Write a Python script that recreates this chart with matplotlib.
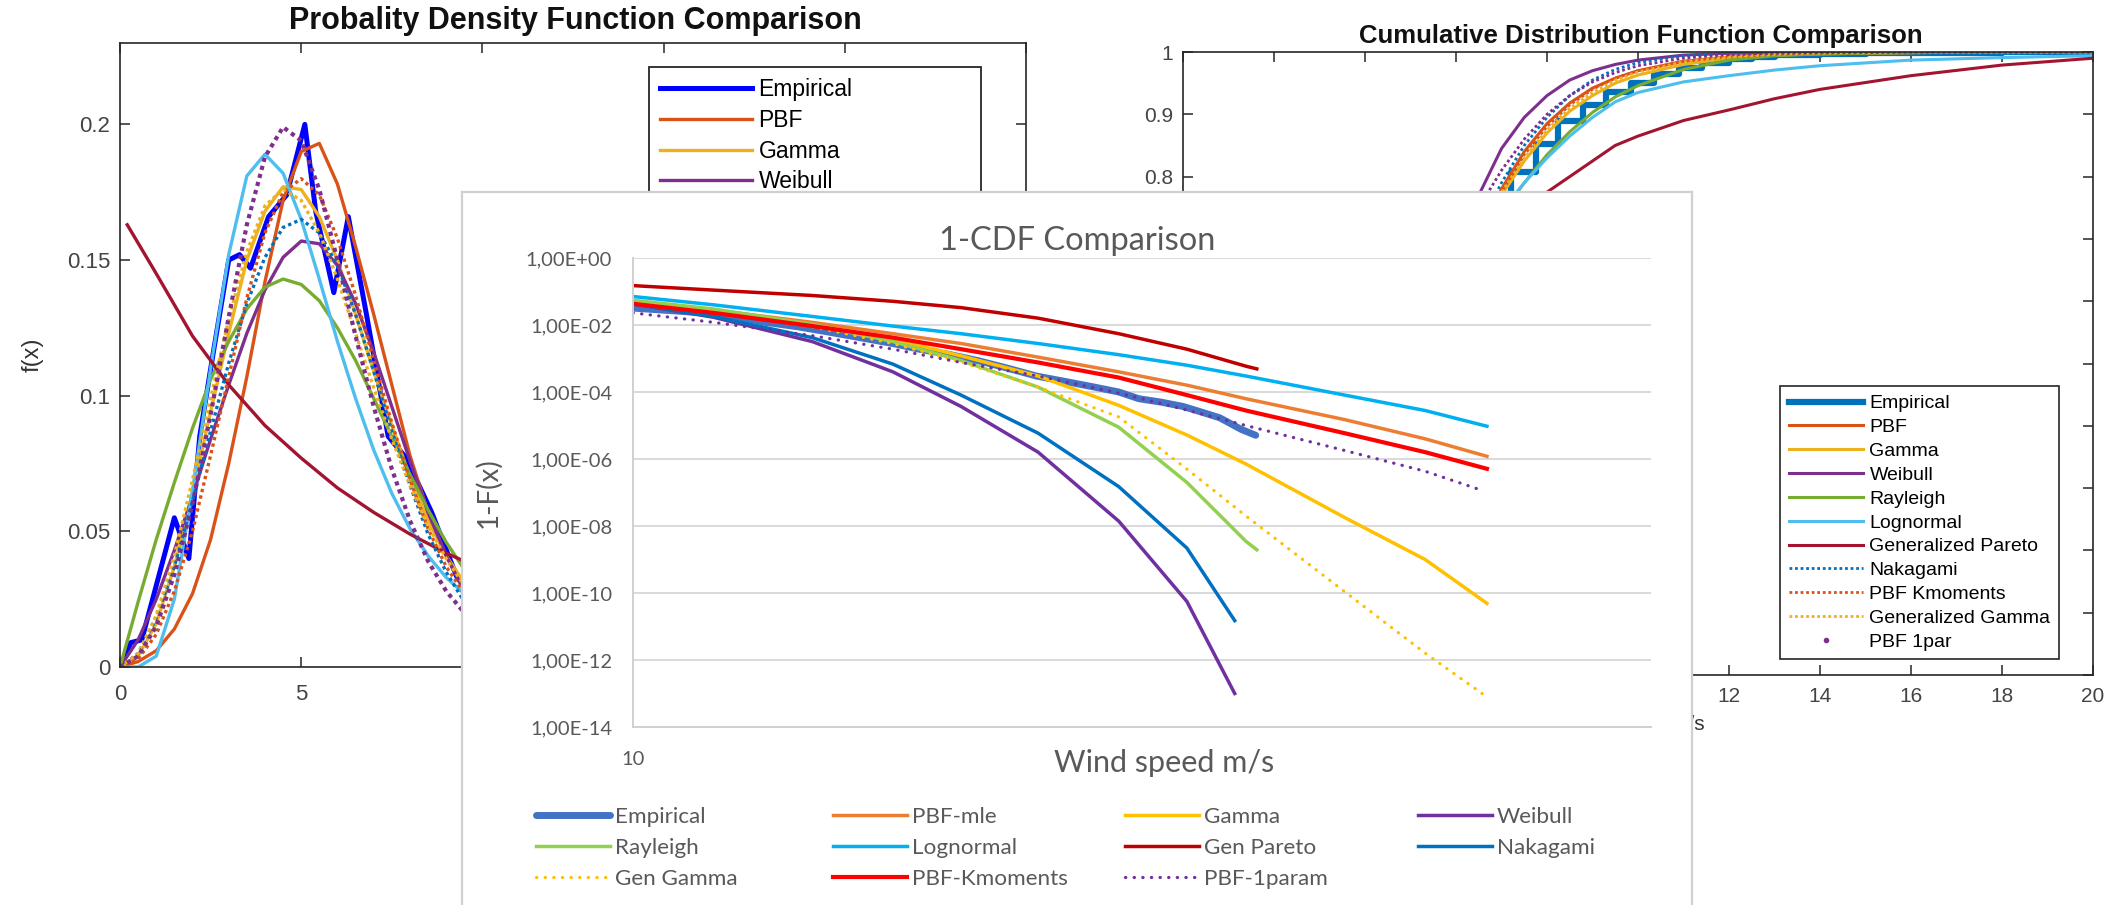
import numpy as np
import matplotlib
matplotlib.use('Agg')
import matplotlib.pyplot as plt
from matplotlib.legend import Legend
from matplotlib.lines import Line2D
from matplotlib.ticker import FixedLocator, FuncFormatter, NullLocator

plt.rcParams['font.family'] = ['Liberation Sans', 'DejaVu Sans']

W, H = 2119, 905

names = ['Empirical', 'PBF', 'Gamma', 'Weibull', 'Rayleigh', 'Lognormal',
         'Generalized Pareto', 'Nakagami', 'PBF Kmoments', 'Generalized Gamma', 'PBF 1par']
excel_names = ['Empirical', 'PBF-mle', 'Gamma', 'Weibull', 'Rayleigh', 'Lognormal',
               'Gen Pareto', 'Nakagami', 'Gen Gamma', 'PBF-Kmoments', 'PBF-1param']

# ---- left panel: pdf values ----
pdf_x = [0, 0.5, 1, 1.5, 2, 2.5, 3, 3.5, 4, 4.5, 5, 5.5, 6, 6.5, 7, 7.5, 8, 8.5, 9, 9.5, 10, 11, 12]
pdf_pbf = [0, 0.002, 0.006, 0.014, 0.027, 0.047, 0.075, 0.107, 0.142, 0.172, 0.190, 0.193, 0.178, 0.155,
           0.130, 0.104, 0.078, 0.057, 0.041, 0.029, 0.020, 0.009, 0.004]
pdf_gamma = [0, 0.004, 0.016, 0.037, 0.064, 0.094, 0.123, 0.150, 0.168, 0.177, 0.176, 0.166, 0.150, 0.130,
             0.109, 0.089, 0.070, 0.054, 0.041, 0.031, 0.023, 0.012, 0.006]
pdf_weibull = [0, 0.010, 0.025, 0.043, 0.063, 0.084, 0.104, 0.123, 0.139, 0.151, 0.157, 0.156, 0.148, 0.134,
               0.116, 0.096, 0.076, 0.057, 0.041, 0.028, 0.018, 0.006, 0.002]
pdf_rayleigh = [0, 0.024, 0.047, 0.068, 0.088, 0.106, 0.120, 0.132, 0.140, 0.143, 0.141, 0.135, 0.125, 0.113,
                0.099, 0.085, 0.071, 0.058, 0.046, 0.036, 0.027, 0.015, 0.008]
pdf_lognormal = [0, 0, 0.004, 0.025, 0.065, 0.110, 0.152, 0.181, 0.189, 0.182, 0.165, 0.143, 0.120, 0.099,
                 0.080, 0.064, 0.051, 0.041, 0.033, 0.027, 0.021, 0.013, 0.008]
pdf_nakagami = [0, 0.005, 0.018, 0.037, 0.061, 0.087, 0.112, 0.134, 0.151, 0.162, 0.165, 0.160, 0.148, 0.130,
                0.109, 0.087, 0.067, 0.049, 0.035, 0.024, 0.016, 0.006, 0.002]
pdf_pbfk = [0, 0.003, 0.012, 0.028, 0.050, 0.078, 0.107, 0.136, 0.160, 0.175, 0.180, 0.174, 0.158, 0.137,
            0.113, 0.090, 0.069, 0.051, 0.037, 0.027, 0.019, 0.009, 0.004]
pdf_gengamma = [0, 0.005, 0.019, 0.041, 0.069, 0.099, 0.128, 0.153, 0.170, 0.176, 0.172, 0.160, 0.143, 0.123,
                0.103, 0.084, 0.067, 0.052, 0.040, 0.030, 0.022, 0.012, 0.006]
pdf_pbf1 = [0, 0.004, 0.015, 0.034, 0.060, 0.093, 0.129, 0.163, 0.188, 0.199, 0.194, 0.176, 0.150, 0.122,
            0.096, 0.073, 0.054, 0.039, 0.028, 0.020, 0.014, 0.006, 0.003]
gp_x = [0.2, 1, 2, 3, 4, 5, 6, 7, 8, 9, 10, 11, 12]
pdf_genpareto = [0.163, 0.145, 0.122, 0.104, 0.089, 0.077, 0.066, 0.057, 0.049, 0.042, 0.036, 0.031, 0.027]
emp_pdf_x = [0, 0.3, 0.6, 1.0, 1.5, 1.9, 2.2, 2.6, 3.0, 3.3, 3.6, 4.1, 4.6, 5.1, 5.4, 5.9, 6.3, 6.8, 7.4,
             7.9, 8.6, 9.3, 10, 11]
emp_pdf_y = [0, 0.009, 0.010, 0.030, 0.055, 0.040, 0.085, 0.118, 0.150, 0.152, 0.147, 0.166, 0.174, 0.200,
             0.168, 0.138, 0.166, 0.130, 0.085, 0.077, 0.057, 0.033, 0.022, 0.012]

# ---- right panel: cdf values ----
cdf_x = [0, 2, 4, 5, 6, 6.5, 7, 7.5, 8, 8.5, 9, 9.5, 10, 11, 12, 13, 14, 16, 18, 20]
cdf_pbf = [0, 0.02, 0.2, 0.38, 0.6, 0.7, 0.78, 0.84, 0.885, 0.918, 0.942, 0.958, 0.97, 0.985, 0.992,
           0.996, 0.998, 0.999, 1, 1]
cdf_gamma = [0, 0.06, 0.3, 0.47, 0.63, 0.7, 0.77, 0.825, 0.87, 0.905, 0.93, 0.95, 0.963, 0.98, 0.99,
             0.995, 0.997, 0.999, 1, 1]
cdf_weibull = [0, 0.07, 0.33, 0.49, 0.68, 0.77, 0.845, 0.895, 0.93, 0.955, 0.97, 0.98, 0.987, 0.995,
               0.998, 0.999, 1, 1, 1, 1]
cdf_rayleigh = [0, 0.1, 0.35, 0.49, 0.62, 0.68, 0.74, 0.79, 0.835, 0.872, 0.903, 0.928, 0.946, 0.972,
                0.987, 0.994, 0.997, 0.999, 1, 1]
cdf_lognormal = [0, 0.06, 0.4, 0.57, 0.68, 0.715, 0.745, 0.79, 0.83, 0.865, 0.895, 0.92, 0.935, 0.952,
                 0.962, 0.971, 0.978, 0.987, 0.991, 0.994]
cdf_genpareto = [0, 0.27, 0.48, 0.56, 0.64, 0.675, 0.71, 0.745, 0.775, 0.80, 0.825, 0.85, 0.865, 0.89,
                 0.907, 0.925, 0.94, 0.962, 0.979, 0.99]
cdf_nakagami = [0, 0.05, 0.27, 0.45, 0.63, 0.72, 0.79, 0.85, 0.895, 0.93, 0.955, 0.972, 0.983, 0.994,
                0.998, 0.999, 1, 1, 1, 1]
cdf_pbfk = [0, 0.04, 0.26, 0.44, 0.62, 0.7, 0.775, 0.835, 0.88, 0.915, 0.94, 0.958, 0.97, 0.985, 0.992,
            0.996, 0.998, 0.999, 1, 1]
cdf_gengamma = [0, 0.06, 0.3, 0.48, 0.64, 0.71, 0.775, 0.83, 0.875, 0.91, 0.935, 0.955, 0.968, 0.984,
                0.992, 0.996, 0.998, 1, 1, 1]
cdf_pbf1 = [0, 0.05, 0.3, 0.5, 0.68, 0.75, 0.81, 0.86, 0.9, 0.93, 0.952, 0.967, 0.978, 0.99, 0.996,
            0.998, 0.999, 1, 1, 1]
emp_cdf_x = [0, 1, 2, 3, 4, 4.5, 5, 5.5, 6, 6.6, 7.2, 7.75, 8.25, 8.8, 9.3, 9.85, 10.35, 10.9, 11.4, 12,
             12.5, 13, 14, 15, 16, 18, 20]
emp_cdf_y = [0, 0.01, 0.05, 0.15, 0.30, 0.38, 0.47, 0.56, 0.66, 0.75, 0.807, 0.853, 0.889, 0.915, 0.936,
             0.951, 0.965, 0.975, 0.982, 0.988, 0.992, 0.995, 0.997, 0.998, 0.999, 1.0, 1.0]

# ---- middle panel: 1-CDF tail values ----
tail_x_long = [10, 12, 15, 18, 21, 25, 30, 35, 40, 50, 60, 69]
tail_x_41 = [10, 12, 15, 18, 21, 25, 30, 35, 40, 41]
tail_x_39 = [10, 12, 15, 18, 21, 25, 30, 35, 39]
tail_x_p1 = [10, 12, 15, 18, 21, 25, 30, 35, 40, 50, 60, 68]
tail_emp_x = [10.0, 11.5, 12.5, 13.5, 14.5, 15.5, 16.7, 18.0, 19.1, 20.5, 21.8, 23.3, 24.9, 26.5, 28.4,
              30.0, 31.4, 33.0, 34.7, 36.2, 37.7, 39.6, 40.9]
tail_emp = [3.2e-2, 2.4e-2, 1.9e-2, 1.2e-2, 8.9e-3, 6.3e-3, 4.2e-3, 2.8e-3, 1.9e-3, 1.3e-3, 8.7e-4, 5.2e-4,
            3.0e-4, 2.1e-4, 1.4e-4, 1.0e-4, 6.3e-5, 5.0e-5, 3.7e-5, 2.5e-5, 1.7e-5, 7.6e-6, 5.1e-6]
tail_pbf = [5.1e-2, 2.8e-2, 1.2e-2, 5.5e-3, 2.8e-3, 1.1e-3, 4.0e-4, 1.6e-4, 6.3e-5, 1.5e-5, 4.0e-6, 1.2e-6]
tail_gamma = [5.1e-2, 2.6e-2, 1.0e-2, 3.8e-3, 1.2e-3, 3.0e-4, 4.0e-5, 5.2e-6, 7.1e-7, 1.8e-8, 1.0e-9, 4.9e-11]
tail_weibull = [4.3e-2, 1.7e-2, 3.2e-3, 4.0e-4, 3.7e-5, 1.6e-6, 1.4e-8, 5.6e-11, 1.0e-13]
tail_rayleigh = [5.5e-2, 3.0e-2, 1.05e-2, 3.2e-3, 8.7e-4, 1.4e-4, 8.9e-6, 2.0e-7, 3.5e-9, 1.95e-9]
tail_lognormal = [7.1e-2, 4.0e-2, 1.8e-2, 9.3e-3, 5.5e-3, 2.8e-3, 1.3e-3, 6.3e-4, 3.0e-4, 8.1e-5, 2.8e-5, 9.5e-6]
tail_genpareto = [1.5e-1, 1.1e-1, 7.6e-2, 5.1e-2, 3.3e-2, 1.6e-2, 5.5e-3, 1.9e-3, 5.9e-4, 4.9e-4]
tail_nakagami = [4.3e-2, 1.8e-2, 4.2e-3, 6.8e-4, 8.1e-5, 5.9e-6, 1.5e-7, 2.2e-9, 1.5e-11]
tail_gengamma = [4.5e-2, 2.4e-2, 8.9e-3, 2.8e-3, 7.9e-4, 1.4e-4, 1.8e-5, 5.0e-7, 2.0e-8, 1.1e-10, 1.6e-12, 7.9e-14]
tail_pbfk = [4.3e-2, 2.3e-2, 9.3e-3, 4.2e-3, 1.9e-3, 7.6e-4, 2.7e-4, 8.1e-5, 2.8e-5, 5.9e-6, 1.6e-6, 5.1e-7]
tail_pbf1 = [2.3e-2, 1.2e-2, 4.8e-3, 1.9e-3, 7.6e-4, 3.0e-4, 9.3e-5, 2.9e-5, 1.0e-5, 1.8e-6, 4.3e-7, 1.2e-7]


def rect(l, t, r, b):
    # pixel box (left, top, right, bottom) -> figure fractions
    return [l / W, 1 - b / H, (r - l) / W, (b - t) / H]


def fpt(x, y):
    return (x / W, 1 - y / H)


def matlab_look(ax, size):
    for s in ax.spines.values():
        s.set_color('#262626')
        s.set_linewidth(1.2)
    ax.tick_params(direction='in', length=7, width=1.1, top=True, right=True,
                   color='#262626', labelcolor='#444444', labelsize=size)


fig = plt.figure(figsize=(W / 100, H / 100), dpi=100)
dot = (0, (1, 1))

#______________________________________________________________________________
# left: probability density
ax1 = fig.add_axes(rect(120, 43, 1026, 667))
ax1.set_zorder(1)
ax1.plot(emp_pdf_x, emp_pdf_y, color='#0000FF', lw=3.6)
ax1.plot(pdf_x, pdf_pbf, color='#D95319', lw=2.4)
ax1.plot(pdf_x, pdf_gamma, color='#EDB120', lw=2.4)
ax1.plot(pdf_x, pdf_weibull, color='#7E2F8E', lw=2.4)
ax1.plot(pdf_x, pdf_rayleigh, color='#77AC30', lw=2.4)
ax1.plot(pdf_x, pdf_lognormal, color='#4DBEEE', lw=2.4)
ax1.plot(gp_x, pdf_genpareto, color='#A2142F', lw=2.4)
ax1.plot(pdf_x, pdf_nakagami, color='#0072BD', lw=2.4, ls=dot)
ax1.plot(pdf_x, pdf_pbfk, color='#D95319', lw=2.4, ls=dot)
ax1.plot(pdf_x, pdf_gengamma, color='#EDB120', lw=2.4, ls=dot)
ax1.plot(pdf_x, pdf_pbf1, color='#7E2F8E', lw=3.0, ls=dot)
ax1.set_xlim(0, 25)
ax1.set_ylim(0, 0.23)
ax1.set_xticks([0, 5, 10, 15, 20, 25])
ax1.set_xticklabels(['0', '5', '10', '15', '20', '25'])
ax1.set_yticks([0, 0.05, 0.1, 0.15, 0.2])
ax1.set_yticklabels(['0', '0.05', '0.1', '0.15', '0.2'])
matlab_look(ax1, 16)
ax1.tick_params(axis='x', pad=12)
ax1.tick_params(axis='y', pad=7)
ax1.set_ylabel('f(x)', fontsize=17, color='#333333')
ax1.yaxis.set_label_coords((33 - 120) / 906, 0.5)
ax1.yaxis.label.set_va('center')
ax1.text(*fpt(575, 21), 'Probality Density Function Comparison', transform=fig.transFigure,
         ha='center', va='center', fontsize=22, fontweight='bold', color='#111111')
leg1 = ax1.legend(ax1.get_lines(), names, loc='upper left', bbox_to_anchor=fpt(649, 67),
                  bbox_transform=fig.transFigure, fontsize=16.5, handlelength=4.0,
                  handletextpad=0.28, labelspacing=0.33, borderpad=0.5, borderaxespad=0,
                  fancybox=False, edgecolor='#262626', framealpha=1)
leg1.get_frame().set_linewidth(1.3)

#______________________________________________________________________________
# right: cumulative distribution
ax2 = fig.add_axes(rect(1183, 52, 2093, 675))
ax2.set_zorder(1)
ax2.step(emp_cdf_x, emp_cdf_y, where='post', color='#0072BD', lw=4.5)
ax2.plot(cdf_x, cdf_pbf, color='#D95319', lw=2.2)
ax2.plot(cdf_x, cdf_gamma, color='#EDB120', lw=2.2)
ax2.plot(cdf_x, cdf_weibull, color='#7E2F8E', lw=2.2)
ax2.plot(cdf_x, cdf_rayleigh, color='#77AC30', lw=2.2)
ax2.plot(cdf_x, cdf_lognormal, color='#4DBEEE', lw=2.2)
ax2.plot(cdf_x, cdf_genpareto, color='#A2142F', lw=2.2)
ax2.plot(cdf_x, cdf_nakagami, color='#0072BD', lw=2.0, ls=dot)
ax2.plot(cdf_x, cdf_pbfk, color='#D95319', lw=2.0, ls=dot)
ax2.plot(cdf_x, cdf_gengamma, color='#EDB120', lw=2.0, ls=dot)
ax2.plot(cdf_x, cdf_pbf1, color='#7E2F8E', lw=2.0, ls=dot)
ax2.set_xlim(0, 20)
ax2.set_ylim(0, 1)
ax2.set_xticks(range(0, 21, 2))
ax2.set_yticks([i / 10 for i in range(11)])
# labels below 0.8 sit behind the middle panel
ax2.set_yticklabels(['', '', '', '', '', '', '', '', '0.8', '0.9', '1'])
matlab_look(ax2, 15)
ax2.tick_params(axis='x', pad=9)
ax2.tick_params(axis='y', pad=7)
ax2.set_xlabel('Wind speed m/s', fontsize=15, color='#333333')
ax2.xaxis.set_label_coords((1630 - 1183) / 910, (675 - 725) / 623)
ax2.xaxis.label.set_va('center')
ax2.text(*fpt(1641, 36), 'Cumulative Distribution Function Comparison', transform=fig.transFigure,
         ha='center', va='center', fontsize=18.5, fontweight='bold', color='#111111')
cdf_handles = ax2.get_lines()[:10] + [Line2D([], [], ls='none', marker='.', ms=6, color='#7E2F8E')]
leg2 = ax2.legend(cdf_handles, names, loc='upper left', bbox_to_anchor=fpt(1780, 386),
                  bbox_transform=fig.transFigure, fontsize=14, handlelength=3.8,
                  handletextpad=0.35, labelspacing=0.32, borderpad=0.45, borderaxespad=0,
                  fancybox=False, edgecolor='#262626', framealpha=1)
leg2.get_frame().set_linewidth(1.2)

#______________________________________________________________________________
# middle: excel style 1-CDF panel on top
panel = fig.add_axes(rect(462, 192, 1692, 915))
panel.set_zorder(2)
panel.set_xticks([])
panel.set_yticks([])
for s in panel.spines.values():
    s.set_color('#D0D0D0')
    s.set_linewidth(1.6)

ax3 = fig.add_axes(rect(633, 258, 1651, 727))
ax3.set_zorder(3)
ax3.patch.set_alpha(0)
xdot = (0, (0.1, 2.6))
ax3.plot(tail_emp_x, tail_emp, color='#4472C4', lw=5.0, solid_capstyle='round')
ax3.plot(tail_x_long, tail_pbf, color='#ED7D31', lw=2.5)
ax3.plot(tail_x_long, tail_gamma, color='#FFC000', lw=2.5)
ax3.plot(tail_x_39, tail_weibull, color='#7030A0', lw=2.5)
ax3.plot(tail_x_41, tail_rayleigh, color='#92D050', lw=2.5)
ax3.plot(tail_x_long, tail_lognormal, color='#00B0F0', lw=2.5)
ax3.plot(tail_x_41, tail_genpareto, color='#C00000', lw=2.5)
ax3.plot(tail_x_39, tail_nakagami, color='#0070C0', lw=2.5)
ax3.plot(tail_x_long, tail_gengamma, color='#FFC000', lw=2.3, ls=xdot, dash_capstyle='round')
ax3.plot(tail_x_long, tail_pbfk, color='#FF0000', lw=3.0)
ax3.plot(tail_x_p1, tail_pbf1, color='#7030A0', lw=2.3, ls=xdot, dash_capstyle='round')
ax3.set_xscale('log')
ax3.set_yscale('log')
ax3.set_xlim(10, 100)
ax3.set_ylim(1e-14, 1)
ax3.xaxis.set_major_locator(FixedLocator([10]))
ax3.xaxis.set_major_formatter(FuncFormatter(lambda v, p: '10'))
ax3.xaxis.set_minor_locator(NullLocator())
ax3.yaxis.set_major_locator(FixedLocator([10.0 ** -e for e in range(0, 15, 2)]))
ax3.yaxis.set_major_formatter(FuncFormatter(lambda v, p: '1,00E{:+03d}'.format(int(round(np.log10(v))))))
ax3.yaxis.set_minor_locator(NullLocator())
ax3.grid(axis='y', color='#D9D9D9', lw=1.4)
ax3.set_axisbelow(True)
for s in ['top', 'right']:
    ax3.spines[s].set_visible(False)
for s in ['left', 'bottom']:
    ax3.spines[s].set_color('#D0D0D0')
    ax3.spines[s].set_linewidth(1.4)
ax3.tick_params(length=0, labelsize=14.5, labelcolor='#595959', labelfontfamily='Lato')
ax3.tick_params(axis='y', pad=15)
ax3.tick_params(axis='x', pad=17)
ax3.set_ylabel('1-F(x)', fontsize=20, color='#595959', family='Lato')
ax3.yaxis.set_label_coords((488 - 633) / 1018, (727 - 493) / 469)
ax3.yaxis.label.set_va('center')
ax3.text(*fpt(1077, 250), '1-CDF Comparison', transform=fig.transFigure, ha='center',
         va='baseline', fontsize=23.5, color='#595959', family='Lato')
ax3.text(*fpt(1164, 772), 'Wind speed m/s', transform=fig.transFigure, ha='center',
         va='baseline', fontsize=22, color='#595959', family='Lato')

# excel legend: four columns laid out row by row
tail_lines = ax3.get_lines()
columns = [[0, 4, 8], [1, 5, 9], [2, 6, 10], [3, 7]]
col_left = [536, 833, 1125, 1418]
for col, left in zip(columns, col_left):
    mid = 848 if len(col) == 3 else 832.5
    leg = Legend(ax3, [tail_lines[i] for i in col], [excel_names[i] for i in col],
                 loc='center left', bbox_to_anchor=fpt(left, mid), bbox_transform=fig.transFigure,
                 frameon=False, borderpad=0, borderaxespad=0, handlelength=3.3,
                 handletextpad=0.2, labelspacing=0.5, labelcolor='#595959',
                 prop={'family': 'Lato', 'size': 16.2})
    ax3.add_artist(leg)

fig.savefig('out.png', dpi=100)
